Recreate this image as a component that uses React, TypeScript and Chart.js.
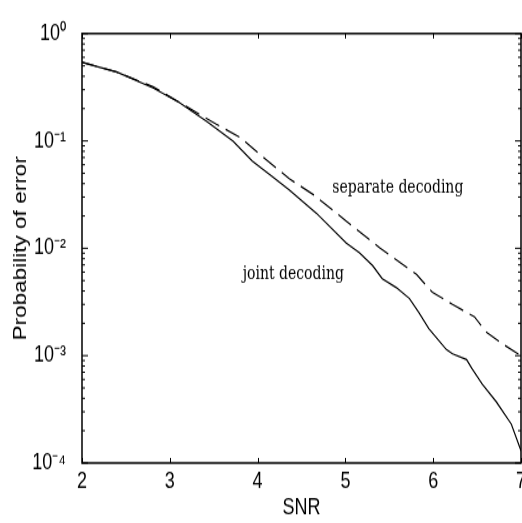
import React, { useEffect, useRef } from "react";
import { Chart, registerables } from "chart.js";

Chart.register(...registerables);

// Joint decoding (solid line)
const SNR_JOINT = [2.0, 2.4, 2.81, 3.11, 3.42, 3.72, 3.94, 4.17, 4.36, 4.67, 5.01, 5.16, 5.31, 5.42, 5.58, 5.73, 5.84, 5.95, 6.15, 6.22, 6.38, 6.44, 6.56, 6.72, 6.89, 7.0];
const PE_JOINT = [0.54, 0.438, 0.312, 0.227, 0.152, 0.0995, 0.065, 0.0464, 0.035, 0.0212, 0.0112, 0.0091, 0.0069, 0.0052, 0.0043, 0.0034, 0.0025, 0.00178, 0.00114, 0.00104, 0.00092, 0.00076, 0.00054, 0.00037, 0.00023, 0.00013];

// Separate decoding (dashed line)
const SNR_SEP = [2.0, 2.4, 2.81, 3.19, 3.53, 3.8, 4.1, 4.36, 4.65, 5.01, 5.39, 5.81, 5.99, 6.22, 6.47, 6.6, 6.78, 7.0];
const PE_SEP = [0.541, 0.438, 0.319, 0.209, 0.143, 0.108, 0.0665, 0.0445, 0.031, 0.0179, 0.0101, 0.0057, 0.0039, 0.003, 0.0023, 0.00167, 0.0013, 0.001];

const X_TICKS = [2, 3, 4, 5, 6, 7];
const X_TICK_LABELS = ["2", "3", "4", "5", "6", "7"];
const Y_TICKS = [1e-4, 1e-3, 1e-2, 1e-1, 1];
const Y_TICK_LABELS = ["10\u207B\u2074", "10\u207B\u00B3", "10\u207B\u00B2", "10\u207B\u00B9", "10\u2070"];

const X_TITLE = "SNR";
const Y_TITLE = "Probability of error";

const ANNOT_TEXT = ["separate decoding", "joint decoding"];
const ANNOT_X = [4.85, 3.83];
const ANNOT_Y = [0.036, 0.0057];

const SANS = "'Liberation Sans', Arial, Helvetica, sans-serif";

// The scanned figure is taller than it is wide: the canvas is drawn at a
// lower height and shown stretched vertically.
const CANVAS_W = 560;
const CANVAS_H = 418;
const SHOWN_H = 523;

const framePlugin = {
  id: "frame",
  afterDraw(chart: any) {
    const { ctx, chartArea: a, scales } = chart;
    const xs = scales.x;
    const ys = scales.y;
    ctx.save();
    ctx.strokeStyle = "#000";
    ctx.lineWidth = 1.5;
    ctx.strokeRect(a.left, a.top, a.right - a.left, a.bottom - a.top);
    ctx.lineWidth = 1;
    ctx.beginPath();
    X_TICKS.forEach((v) => {
      const px = Math.round(xs.getPixelForValue(v)) + 0.5;
      ctx.moveTo(px, a.bottom);
      ctx.lineTo(px, a.bottom - 4);
      ctx.moveTo(px, a.top);
      ctx.lineTo(px, a.top + 4);
    });
    Y_TICKS.forEach((v, i) => {
      const py = ys.getPixelForValue(v);
      ctx.moveTo(a.left, py);
      ctx.lineTo(a.left + 6, py);
      ctx.moveTo(a.right, py);
      ctx.lineTo(a.right - 6, py);
      if (i < Y_TICKS.length - 1) {
        for (let m = 2; m <= 9; m++) {
          const pm = ys.getPixelForValue(v * m);
          ctx.moveTo(a.left, pm);
          ctx.lineTo(a.left + 3, pm);
          ctx.moveTo(a.right, pm);
          ctx.lineTo(a.right - 3, pm);
        }
      }
    });
    ctx.stroke();
    ctx.fillStyle = "#000";
    ctx.font = "14px 'DejaVu Serif', 'Liberation Serif', serif";
    ctx.textAlign = "left";
    ctx.textBaseline = "middle";
    ANNOT_TEXT.forEach((t, i) => {
      ctx.fillText(t, xs.getPixelForValue(ANNOT_X[i]), ys.getPixelForValue(ANNOT_Y[i]));
    });
    ctx.restore();
  },
};

export default function App() {
  const ref = useRef<HTMLCanvasElement>(null);
  useEffect(() => {
    const canvas = ref.current;
    if (!canvas) return;
    const chart = new Chart(canvas, {
      type: "line",
      data: {
        datasets: [
          {
            label: "joint decoding",
            data: SNR_JOINT.map((x, i) => ({ x, y: PE_JOINT[i] })),
            borderColor: "#000",
            borderWidth: 1.2,
            pointRadius: 0,
            tension: 0,
            fill: false,
          },
          {
            label: "separate decoding",
            data: SNR_SEP.map((x, i) => ({ x, y: PE_SEP[i] })),
            borderColor: "#000",
            borderWidth: 1.2,
            borderDash: [15, 7],
            pointRadius: 0,
            tension: 0,
            fill: false,
          },
        ],
      },
      options: {
        animation: false,
        responsive: false,
        devicePixelRatio: 1,
        layout: { padding: { left: 0, right: 39, top: 22.4, bottom: 0 } },
        plugins: { legend: { display: false }, tooltip: { enabled: false } },
        scales: {
          x: {
            type: "linear",
            min: 2,
            max: 7,
            grid: { display: false, drawTicks: false },
            border: { display: false },
            afterBuildTicks: (s: any) => {
              s.ticks = X_TICKS.map((value) => ({ value }));
            },
            afterFit: (s: any) => {
              s.height = 48;
            },
            ticks: {
              color: "#000",
              padding: 4,
              maxRotation: 0,
              font: { family: SANS, size: 18 },
              callback: (_v: any, i: number) => X_TICK_LABELS[i],
            },
            title: {
              display: true,
              text: X_TITLE,
              color: "#000",
              font: { family: SANS, size: 18 },
              padding: { top: 0, bottom: 1 },
            },
          },
          y: {
            type: "logarithmic",
            min: 1e-4,
            max: 1,
            grid: { display: false, drawTicks: false },
            border: { display: false },
            afterBuildTicks: (s: any) => {
              s.ticks = Y_TICKS.map((value) => ({ value }));
            },
            afterFit: (s: any) => {
              s.width = 82;
            },
            ticks: {
              color: "#000",
              padding: 16,
              font: { family: SANS, size: 18 },
              callback: (_v: any, i: number) => Y_TICK_LABELS[i],
            },
            title: {
              display: true,
              text: Y_TITLE,
              color: "#000",
              font: { family: SANS, size: 18 },
              padding: { top: 10, bottom: 0 },
            },
          },
        },
      },
      plugins: [framePlugin],
    } as any);
    return () => chart.destroy();
  }, []);
  return (
    <div
      style={{
        position: "fixed",
        left: 0,
        top: 0,
        width: 522,
        height: 523,
        overflow: "hidden",
        background: "#fff",
      }}
    >
      <canvas
        ref={ref}
        width={CANVAS_W}
        height={CANVAS_H}
        style={{ display: "block", width: CANVAS_W, height: SHOWN_H }}
      />
    </div>
  );
}
